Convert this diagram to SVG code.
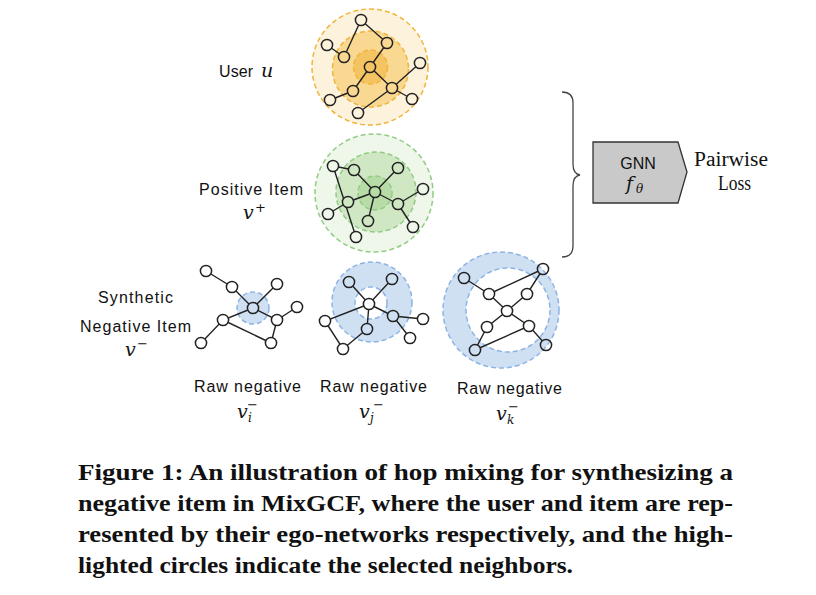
<svg xmlns="http://www.w3.org/2000/svg" xmlns:xlink="http://www.w3.org/1999/xlink" width="816" height="595" viewBox="0 0 816 595">
<style>
.bg{fill:#fff}
.hop{stroke-width:1.5;stroke-dasharray:5 3}
.u1{fill:#fdf3dc;stroke:#f1b43c}
.u2{fill:#f9d891;stroke:#f1b43c}
.u3{fill:#f5c462;stroke:#f1b43c}
.g1{fill:#eef7ea;stroke:#92cc84}
.g2{fill:#cfe7c3;stroke:#92cc84}
.g3{fill:#b8dca8;stroke:#92cc84}
.b1{fill:#cfe0f3;stroke:#8db4e3}
.w{fill:#fff;stroke:#8db4e3}
.edges{fill:none;stroke:#222;stroke-width:1.4}
.nodes{fill:none;stroke:#222;stroke-width:1.5}
.lbl{font-family:"Liberation Sans",Arial,sans-serif;font-size:16px;fill:#111}
.math{font-family:"DejaVu Serif","Liberation Serif",serif;font-style:italic;font-size:19px;fill:#111}
.sm{font-family:"DejaVu Serif","Liberation Serif",serif;font-style:italic;font-size:12px;fill:#111}
.sup{font-family:"DejaVu Sans","Liberation Sans",sans-serif;font-size:13px;fill:#111}
.serif{font-family:"Liberation Serif","Times New Roman",serif;font-size:20px;fill:#111}
.cap{font-family:"Liberation Serif","Times New Roman",serif;font-weight:bold;font-size:24px;fill:#111}
</style>
<defs>
<mask id="holes" maskUnits="userSpaceOnUse" x="0" y="0" width="816" height="595">
<rect x="0" y="0" width="816" height="595" fill="#fff"/>
<g fill="#000" stroke="none">
<use href="#user-n"/><use href="#pos-n"/><use href="#syn-n"/><use href="#rawi-n"/><use href="#rawk-n"/>
</g>
</mask>
</defs>
<rect class="bg" x="0" y="0" width="816" height="595"/>

<g id="user">
<circle class="hop u1" cx="370" cy="67" r="58"/>
<circle class="hop u2" cx="370.5" cy="69" r="38"/>
<circle class="hop u3" cx="370.5" cy="67" r="17"/>
<path class="edges" mask="url(#holes)" d="M361 20L387 43M361 20L344 57M327 45L344 57M387 43L370 67M370 67L353 91M370 67L392 88M353 91L330 100M358 113L392 88M392 88L420 63M392 88L412 99"/>
<g class="nodes"><g id="user-n">
<circle cx="361" cy="20" r="5.6"/><circle cx="387" cy="43" r="5.6"/><circle cx="327" cy="45" r="5.6"/><circle cx="344" cy="57" r="5.6"/><circle cx="370" cy="67" r="5.6"/><circle cx="420" cy="63" r="5.6"/><circle cx="392" cy="88" r="5.6"/><circle cx="353" cy="91" r="5.6"/><circle cx="330" cy="100" r="5.6"/><circle cx="358" cy="113" r="5.6"/><circle cx="412" cy="99" r="5.6"/>
</g></g>
<text class="lbl" x="219" y="77" textLength="34" lengthAdjust="spacing">User</text>
<text class="math" x="261" y="77">u</text>
</g>

<g id="positive-item">
<circle class="hop g1" cx="374" cy="193" r="59"/>
<circle class="hop g2" cx="376" cy="192" r="40"/>
<circle class="hop g3" cx="375" cy="193" r="17"/>
<path class="edges" mask="url(#holes)" d="M333 166L354 170M354 170L375 192M333 166L356 237M348 202L328 214M348 202L375 192M375 192L398 168M375 192L368 221M375 192L398 204M398 204L423 189M398 204L413 227"/>
<g class="nodes"><g id="pos-n">
<circle cx="333" cy="166" r="5.6"/><circle cx="354" cy="170" r="5.6"/><circle cx="398" cy="168" r="5.6"/><circle cx="375" cy="192" r="5.6"/><circle cx="423" cy="189" r="5.6"/><circle cx="348" cy="202" r="5.6"/><circle cx="398" cy="204" r="5.6"/><circle cx="328" cy="214" r="5.6"/><circle cx="368" cy="221" r="5.6"/><circle cx="356" cy="237" r="5.6"/><circle cx="413" cy="227" r="5.6"/>
</g></g>
<text class="lbl" x="199" y="195" textLength="104" lengthAdjust="spacing">Positive Item</text>
<text class="math" x="243" y="219">v</text>
<text class="sup" x="255" y="212">+</text>
</g>

<g id="synthetic-negative">
<circle class="hop b1" cx="253" cy="308" r="16"/>
<path class="edges" mask="url(#holes)" d="M206 271L232 287L253 308L277 284M253 308L277 320L297 307M277 320L271 343M253 308L223 320L201 343M223 320L271 343"/>
<g class="nodes"><g id="syn-n">
<circle cx="206" cy="271" r="5.6"/><circle cx="232" cy="287" r="5.6"/><circle cx="277" cy="284" r="5.6"/><circle cx="253" cy="308" r="5.6"/><circle cx="297" cy="307" r="5.6"/><circle cx="277" cy="320" r="5.6"/><circle cx="223" cy="320" r="5.6"/><circle cx="201" cy="343" r="5.6"/><circle cx="271" cy="343" r="5.6"/>
</g></g>
<text class="lbl" x="98" y="303" textLength="75" lengthAdjust="spacing">Synthetic</text>
<text class="lbl" x="80" y="332" textLength="111" lengthAdjust="spacing">Negative Item</text>
<text class="math" x="125" y="356">v</text>
<text class="sup" x="137" y="348">−</text>
<text class="lbl" x="194" y="392" textLength="107" lengthAdjust="spacing">Raw negative</text>
<text class="math" x="237" y="418">v</text>
<text class="sm" x="248" y="422">i</text>
<text class="sup" x="247" y="409">−</text>
</g>

<g id="raw-negative-j">
<circle class="hop b1" cx="372" cy="302" r="40"/>
<circle class="hop w" cx="371" cy="303" r="16"/>
<path class="edges" mask="url(#holes)" d="M369 304L349 282M369 304L392 279M369 304L393 316L423 319M393 316L410 338M369 304L367 329M369 304L325 321L343 349L367 329"/>
<g class="nodes"><g id="rawi-n">
<circle cx="369" cy="304" r="5.6"/><circle cx="349" cy="282" r="5.6"/><circle cx="392" cy="279" r="5.6"/><circle cx="393" cy="316" r="5.6"/><circle cx="423" cy="319" r="5.6"/><circle cx="410" cy="338" r="5.6"/><circle cx="367" cy="329" r="5.6"/><circle cx="325" cy="321" r="5.6"/><circle cx="343" cy="349" r="5.6"/>
</g></g>
<text class="lbl" x="320" y="392" textLength="107" lengthAdjust="spacing">Raw negative</text>
<text class="math" x="359" y="418">v</text>
<text class="sm" x="370" y="422">j</text>
<text class="sup" x="373" y="409">−</text>
</g>

<g id="raw-negative-k">
<circle class="hop b1" cx="501" cy="310" r="58"/>
<circle class="hop w" cx="508" cy="310" r="42"/>
<path class="edges" mask="url(#holes)" d="M464 278L489 294L507 311L529 326L546 345M543 269L527 294L507 311L487 327L475 350M489 294L543 269M475 350L529 326"/>
<g class="nodes"><g id="rawk-n">
<circle cx="464" cy="278" r="5.6"/><circle cx="543" cy="269" r="5.6"/><circle cx="489" cy="294" r="5.6"/><circle cx="527" cy="294" r="5.6"/><circle cx="507" cy="311" r="5.6"/><circle cx="487" cy="327" r="5.6"/><circle cx="529" cy="326" r="5.6"/><circle cx="475" cy="350" r="5.6"/><circle cx="546" cy="345" r="5.6"/>
</g></g>
<text class="lbl" x="457" y="394" textLength="105" lengthAdjust="spacing">Raw negative</text>
<text class="math" x="496" y="420">v</text>
<text class="sm" x="507" y="424">k</text>
<text class="sup" x="508" y="411">−</text>
</g>

<g id="gnn">
<polygon points="593,142 678,142 687,172 678,203 593,203" fill="#c9c9c9" stroke="#333" stroke-width="1.3"/>
<text class="lbl" x="638" y="169" text-anchor="middle" font-size="15">GNN</text>
<text class="math" x="626" y="190" font-size="20">f</text>
<text class="sm" x="636" y="193" font-size="13">θ</text>
</g>

<g id="loss">
<text class="serif" x="694" y="166" textLength="74" lengthAdjust="spacingAndGlyphs">Pairwise</text>
<text class="serif" x="718" y="190" textLength="33" lengthAdjust="spacingAndGlyphs">Loss</text>
</g>

<g id="connectors">
<path d="M562 92Q573 92 573 103L573 164Q573 174 580 175Q573 176 573 186L573 246Q573 257 562 257" fill="none" stroke="#444" stroke-width="1.3"/>
</g>

<g id="caption">
<text class="cap" x="78" y="480" textLength="655" lengthAdjust="spacingAndGlyphs">Figure 1: An illustration of hop mixing for synthesizing a</text>
<text class="cap" x="78" y="511" textLength="655" lengthAdjust="spacingAndGlyphs">negative item in MixGCF, where the user and item are rep-</text>
<text class="cap" x="78" y="542" textLength="655" lengthAdjust="spacingAndGlyphs">resented by their ego-networks respectively, and the high-</text>
<text class="cap" x="78" y="573" textLength="495" lengthAdjust="spacingAndGlyphs">lighted circles indicate the selected neighbors.</text>
</g>
</svg>
